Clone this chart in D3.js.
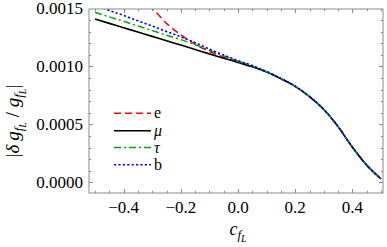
<!DOCTYPE html>
<html><head><meta charset="utf-8">
<script src="https://cdn.jsdelivr.net/npm/d3@7"></script>
<style>
html,body{margin:0;padding:0;background:#fff;}
svg text{font-family:"Liberation Serif","Times New Roman",serif;}
</style></head>
<body><svg id="c" width="387" height="247"></svg>
<script>
const cValues = [-0.5,-0.45,-0.4,-0.35,-0.3,-0.25,-0.2,-0.15,-0.1,-0.05,0,0.05,0.1,0.15,0.2,0.25,0.3,0.35,0.4,0.45,0.5];
const eValues   = [0.00200,0.00185,0.00172,0.00160,0.00150,0.001370,0.001272,0.001190,0.001128,0.001080,0.001040,0.001000,0.000952,0.000894,0.000827,0.000738,0.000628,0.000480,0.000303,0.000148,0.000030];
const muValues  = [0.001408,0.001370,0.001333,0.001295,0.001258,0.001220,0.001183,0.001145,0.001107,0.001070,0.001033,0.000996,0.000950,0.000893,0.000827,0.000738,0.000628,0.000480,0.000303,0.000148,0.000030];
const tauValues = [0.001466,0.001426,0.001388,0.001348,0.001308,0.001268,0.001230,0.001186,0.001138,0.001090,0.001044,0.001002,0.000953,0.000894,0.000827,0.000738,0.000628,0.000480,0.000303,0.000148,0.000030];
const bValues   = [0.001530,0.001482,0.001438,0.001392,0.001347,0.001300,0.001254,0.001204,0.001148,0.001097,0.001050,0.001006,0.000955,0.000895,0.000828,0.000739,0.000628,0.000480,0.000303,0.000148,0.000030];
const seriesNames = ["e","μ","τ","b"];
const xTickLabels = ["−0.4","−0.2","0.0","0.2","0.4"];
const xTickValues = [-0.4,-0.2,0,0.2,0.4];
const yTickLabels = ["0.0000","0.0005","0.0010","0.0015"];
const yTickValues = [0,0.0005,0.0010,0.0015];

const svg = d3.select("#c");
const L=89, R=383, T=9, B=193;
const x = d3.scaleLinear().domain([-0.5,0.5]).range([95,381]);
const y = d3.scaleLinear().domain([0,0.0015]).range([182.3,8.3]);

const styles = [
  {color:"#ff0000", dash:"7,4", w:1.5},
  {color:"#000000", dash:null, w:1.6},
  {color:"#00aa00", dash:"7,3,2,3", w:1.5},
  {color:"#0000ff", dash:"2.2,2.2", w:1.6}
];
const allSeries = [eValues, muValues, tauValues, bValues];

svg.append("defs").append("clipPath").attr("id","clip")
  .append("rect").attr("x",L).attr("y",T).attr("width",R-L).attr("height",B-T);

const line = d3.line().x((d,i)=>x(cValues[i])).y(d=>y(d)).curve(d3.curveMonotoneX);
const g = svg.append("g").attr("clip-path","url(#clip)");
allSeries.forEach((vals,i)=>{
  g.append("path").datum(vals).attr("d",line)
   .attr("fill","none").attr("stroke",styles[i].color)
   .attr("stroke-width",styles[i].w)
   .attr("stroke-dasharray",styles[i].dash);
});

// frame
const frameColor="#8a8a8a";
svg.append("rect").attr("x",L).attr("y",T).attr("width",R-L).attr("height",B-T)
  .attr("fill","none").attr("stroke",frameColor).attr("stroke-width",1);

// ticks
const fg = svg.append("g").attr("stroke",frameColor).attr("stroke-width",1);
const xMinor = d3.range(-0.5,0.5001,0.05).map(v=>+v.toFixed(2));
xMinor.forEach(v=>{
  const major = xTickValues.some(t=>Math.abs(t-v)<1e-9);
  const len = major?4:2.2;
  const px = Math.round(x(v))+0.5;
  fg.append("line").attr("x1",px).attr("x2",px).attr("y1",B).attr("y2",B-len);
  fg.append("line").attr("x1",px).attr("x2",px).attr("y1",T).attr("y2",T+len);
});
const yMinor = d3.range(0,0.00151,0.0001).map(v=>+v.toFixed(5));
yMinor.forEach(v=>{
  const major = yTickValues.some(t=>Math.abs(t-v)<1e-9);
  const len = major?4:2.2;
  const py = Math.round(y(v))+0.5;
  if (py < T || py > B) return;
  fg.append("line").attr("x1",L).attr("x2",L+len).attr("y1",py).attr("y2",py);
  fg.append("line").attr("x1",R).attr("x2",R-len).attr("y1",py).attr("y2",py);
});

// tick labels
xTickValues.forEach((v,i)=>{
  svg.append("text").attr("x",x(v)).attr("y",213).attr("text-anchor","middle")
    .attr("font-size",17).text(xTickLabels[i]);
});
yTickValues.forEach((v,i)=>{
  svg.append("text").attr("x",83).attr("y",y(v)+6).attr("text-anchor","end")
    .attr("font-size",17).text(yTickLabels[i]);
});

// x label
const xl = svg.append("text").attr("x",238).attr("y",235).attr("text-anchor","middle").attr("font-size",18);
xl.append("tspan").attr("font-style","italic").text("c");
xl.append("tspan").attr("font-style","italic").attr("font-size",13).attr("dy",4).text("f");
xl.append("tspan").attr("font-style","italic").attr("font-size",10).attr("dy",3).text("L");

// y label
const yl = svg.append("text").attr("transform","translate(19,121) rotate(-90)")
  .attr("text-anchor","middle").attr("font-size",19);
yl.append("tspan").text("|");
yl.append("tspan").attr("font-style","italic").text("δ\u2009g");
yl.append("tspan").attr("font-style","italic").attr("font-size",13).attr("dy",4).text("f");
yl.append("tspan").attr("font-style","italic").attr("font-size",10).attr("dy",3).text("L");
yl.append("tspan").attr("dy",-7).text(" / ");
yl.append("tspan").attr("font-style","italic").text("g");
yl.append("tspan").attr("font-style","italic").attr("font-size",13).attr("dy",4).text("f");
yl.append("tspan").attr("font-style","italic").attr("font-size",10).attr("dy",3).text("L");
yl.append("tspan").attr("dy",-7).text("|");

// legend
const legY = [113.3,130.7,147.5,164.7];
seriesNames.forEach((n,i)=>{
  svg.append("line").attr("x1",114).attr("x2",151).attr("y1",legY[i]).attr("y2",legY[i])
    .attr("stroke",styles[i].color).attr("stroke-width",styles[i].w)
    .attr("stroke-dasharray",styles[i].dash);
  svg.append("text").attr("x",154).attr("y",legY[i]+5).attr("font-size",16)
    .attr("font-style", (n==="μ"||n==="τ")?"italic":"normal").text(n);
});
</script></body></html>
